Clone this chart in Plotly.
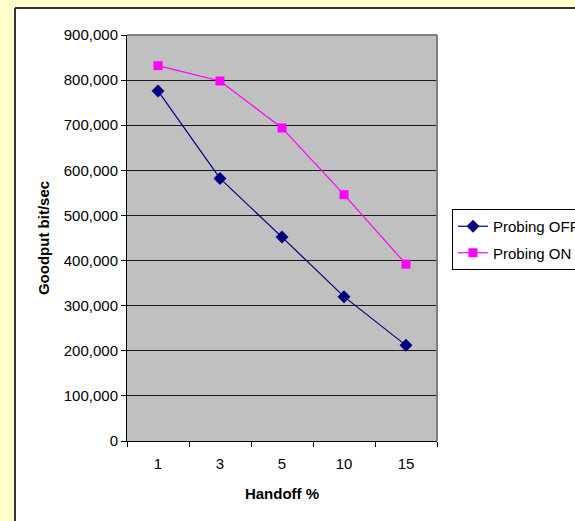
import plotly.graph_objects as go

categories = ["1", "3", "5", "10", "15"]
probing_off = [776000, 582000, 452000, 320000, 212000]
probing_on = [832000, 798000, 694000, 546000, 392000]
y_ticks = [0, 100000, 200000, 300000, 400000, 500000, 600000, 700000, 800000, 900000]

W, H = 575, 521
L, R, T, B = 127, 437, 35, 441


def px(x):
    return (x - L) / (R - L)


def py(y):
    return (B - y) / (B - T)


FONT = "Liberation Sans, Arial, sans-serif"

fig = go.Figure()
fig.add_trace(go.Scatter(
    x=categories, y=probing_off, name="Probing OFF", mode="lines+markers",
    legendgroup="off",
    line=dict(color="#000080", width=1.2),
    marker=dict(symbol="diamond", size=10, color="#000080"),
))
fig.add_trace(go.Scatter(
    x=categories, y=probing_on, name="Probing ON", mode="lines+markers",
    legendgroup="on",
    line=dict(color="#FF00FF", width=1.2),
    marker=dict(symbol="square", size=9, color="#FF00FF"),
))

shapes = [
    # yellow outer strips
    dict(type="rect", xref="paper", yref="paper", x0=px(-5), x1=px(15), y0=py(530), y1=py(-5),
         fillcolor="#FFFFCC", line=dict(width=0), layer="below"),
    dict(type="rect", xref="paper", yref="paper", x0=px(-5), x1=px(580), y0=py(8), y1=py(-5),
         fillcolor="#FFFFCC", line=dict(width=0), layer="below"),
    # dark frame of chart area
    dict(type="line", xref="paper", yref="paper", x0=px(15), x1=px(580), y0=py(8), y1=py(8),
         line=dict(color="#333333", width=2)),
    dict(type="line", xref="paper", yref="paper", x0=px(15), x1=px(15), y0=py(8), y1=py(530),
         line=dict(color="#333333", width=2)),
    # plot area top/right grey border
    dict(type="line", xref="paper", yref="paper", x0=0, x1=1, y0=1, y1=1,
         line=dict(color="#808080", width=2)),
    dict(type="line", xref="paper", yref="paper", x0=1, x1=1, y0=0, y1=1,
         line=dict(color="#808080", width=2)),
]

fig.update_layout(
    width=W, height=H,
    margin=dict(l=L, r=W - R, t=T, b=H - B, autoexpand=False),
    paper_bgcolor="white",
    plot_bgcolor="#C0C0C0",
    font=dict(family=FONT, size=15, color="black"),
    shapes=shapes,
    showlegend=True,
    legend=dict(
        x=px(452), y=py(209), xanchor="left", yanchor="top",
        bgcolor="white", bordercolor="black", borderwidth=1,
        font=dict(family=FONT, size=15, color="black"),
        itemwidth=30,
        traceorder="grouped",
        tracegroupgap=4,
    ),
    xaxis=dict(
        type="category",
        categoryorder="array", categoryarray=categories,
        showgrid=False, zeroline=False,
        showline=True, linecolor="black", linewidth=1,
        ticks="outside", tickson="boundaries", ticklen=5, tickcolor="black",
        ticklabelstandoff=9,
        tickfont=dict(family=FONT, size=15, color="black"),
        title=dict(text="<b>Handoff %</b>", font=dict(family=FONT, size=15, color="black"), standoff=17),
        range=[-0.5, 4.5],
        automargin=False,
    ),
    yaxis=dict(
        range=[0, 900000],
        tickvals=y_ticks,
        tickformat=",d",
        showgrid=True, gridcolor="#1a1a1a", gridwidth=1,
        zeroline=False,
        showline=True, linecolor="black", linewidth=1,
        ticks="outside", ticklen=5, tickcolor="black",
        tickfont=dict(family=FONT, size=15, color="black"),
        title=dict(text="<b>Goodput bit/sec</b>", font=dict(family=FONT, size=15, color="black"), standoff=10),
        automargin=False,
    ),
)

fig.write_html("out.html")
